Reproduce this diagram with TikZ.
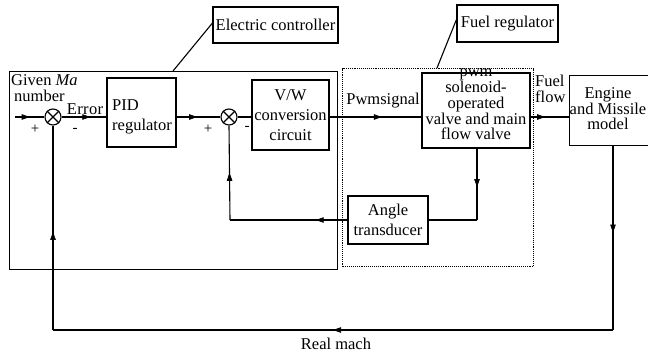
\documentclass[tikz,border=0pt]{standalone}
\usepackage{fontspec}
\setmainfont{Liberation Serif}
\usetikzlibrary{arrows.meta,decorations.markings}
\tikzset{
  blk/.style={draw, line width=1.1pt, inner sep=0pt, align=center, font=\fontsize{16.5}{20}\selectfont},
  sumc/.style={draw, line width=1.1pt, circle, minimum size=16pt, inner sep=0pt},
  txt/.style={inner sep=0pt, font=\fontsize{16.5}{16}\selectfont},
  sgn/.style={inner sep=0pt, font=\fontsize{15}{15}\selectfont},
  wire/.style={line width=1.1pt},
  arr/.style={wire, postaction={decorate}, decoration={markings, mark=at position #1 with {\arrow[line width=0.6pt]{Triangle[length=8pt,width=5.5pt]}}}},
}
\begin{document}
\begin{tikzpicture}[x=1pt,y=-1pt]
\useasboundingbox (0,0) rectangle (648,354);
% region boxes
\node[draw, line width=1.1pt, minimum width=328pt, minimum height=198pt, inner sep=0pt, anchor=north west] (ecbox) at (9,71) {};
\node[draw, line width=1.1pt, densely dotted, minimum width=191pt, minimum height=198pt, inner sep=0pt, anchor=north west] (frbox) at (342,68) {};
% labels
\node[blk, minimum width=125pt, minimum height=36pt] (ec) at (275.5,25) {Electric controller};
\node[blk, minimum width=101pt, minimum height=37pt] (fr) at (507.5,23.5) {Fuel regulator};
\coordinate (ecl) at (173,71);
\coordinate (frl) at (437,68);
\draw[wire] ([yshift=2pt]ec.west) -- (ecl);
\draw[wire] ([yshift=4pt]fr.west) -- (frl);
% blocks
\node[sumc] (s1) at (53,117) {};
\draw[wire] (s1.north east) -- (s1.south west) (s1.north west) -- (s1.south east);
\node[sumc] (s2) at (229,117) {};
\draw[wire] (s2.north east) -- (s2.south west) (s2.north west) -- (s2.south east);
\node[blk, minimum width=69pt, minimum height=69pt] (pid) at (141.5,112.5) {};
\node[txt, align=left, anchor=north west, font=\fontsize{16.5}{20}\selectfont] (pidt) at (112,99) {PID\\regulator};
\node[blk, minimum width=77pt, minimum height=70pt] (vw) at (290.5,115) {V/W\\conversion\\circuit};
\node[blk, minimum width=108pt, minimum height=75pt] (pwm) at (476,110.5) {};
\node[txt, align=center, anchor=north, font=\fontsize{16.5}{15.7}\selectfont] (pwmt) at (476,69) {pwm\\solenoid-\\operated\\valve and main\\flow valve};
\node[blk, minimum width=90pt, minimum height=70pt, anchor=north west] (eng) at (569,75) {};
\node[txt, align=center, font=\fontsize{16.5}{15}\selectfont] (engt) at (608,109) {Engine\\and Missile\\model};
\node[blk, minimum width=80pt, minimum height=48pt] (ang) at (388,220) {Angle\\transducer};
% texts
\node[txt, align=left, anchor=north west] (given) at (11,74) {Given \textit{Ma}\\\hspace{3pt}number};
\node[txt, anchor=base] (err) at (85,114.5) {E\kern0.4pt r\kern0.4pt r\kern0.4pt o\kern0.4pt r};
\node[sgn] (p1) at (35,129) {+};
\node[sgn] (m1) at (75,130) {-};
\node[sgn] (p2) at (208,129) {+};
\node[sgn] (m2) at (247,128) {-};
\node[txt] (pws) at (383,101) {Pwmsignal};
\node[txt, align=left, anchor=north west] (ff) at (535,75) {Fuel\\flow};
\node[txt] (rm) at (336,344) {Real mach};
% connectors
\coordinate (in) at (15,117);
\draw[arr=0.5] (in) -- (s1.west);
\draw[arr=0.64] (s1.east) -- (s1.east -| pid.west);
\draw[arr=0.47] (pid.east |- s2.west) -- (s2.west);
\draw[wire] (s2.east) -- (s2.east -| vw.west);
\coordinate (vwo) at ([yshift=-2pt]vw.east);
\draw[arr=0.57] (vwo) -- (vwo -| pwm.west);
\draw[arr=0.38] (pwm.east |- vwo) -- (vwo -| eng.west);
\coordinate (fb1) at (477,220);
\draw[arr=0.54] (pwm.south -| fb1) -- (fb1);
\draw[wire] (fb1) -- (ang.east);
\coordinate (fb2) at (230,220);
\draw[arr=0.27] (ang.west) -- (fb2);
\draw[arr=0.5] (fb2) -- (s2.south);
\coordinate (rm1) at (613,330);
\coordinate (rm2) at (53,330);
\draw[arr=0.47] (eng.south -| rm1) -- (rm1);
\draw[arr=0.5] (rm1) -- (rm2);
\draw[arr=0.48] (rm2) -- (s1.south);
\end{tikzpicture}
\end{document}
